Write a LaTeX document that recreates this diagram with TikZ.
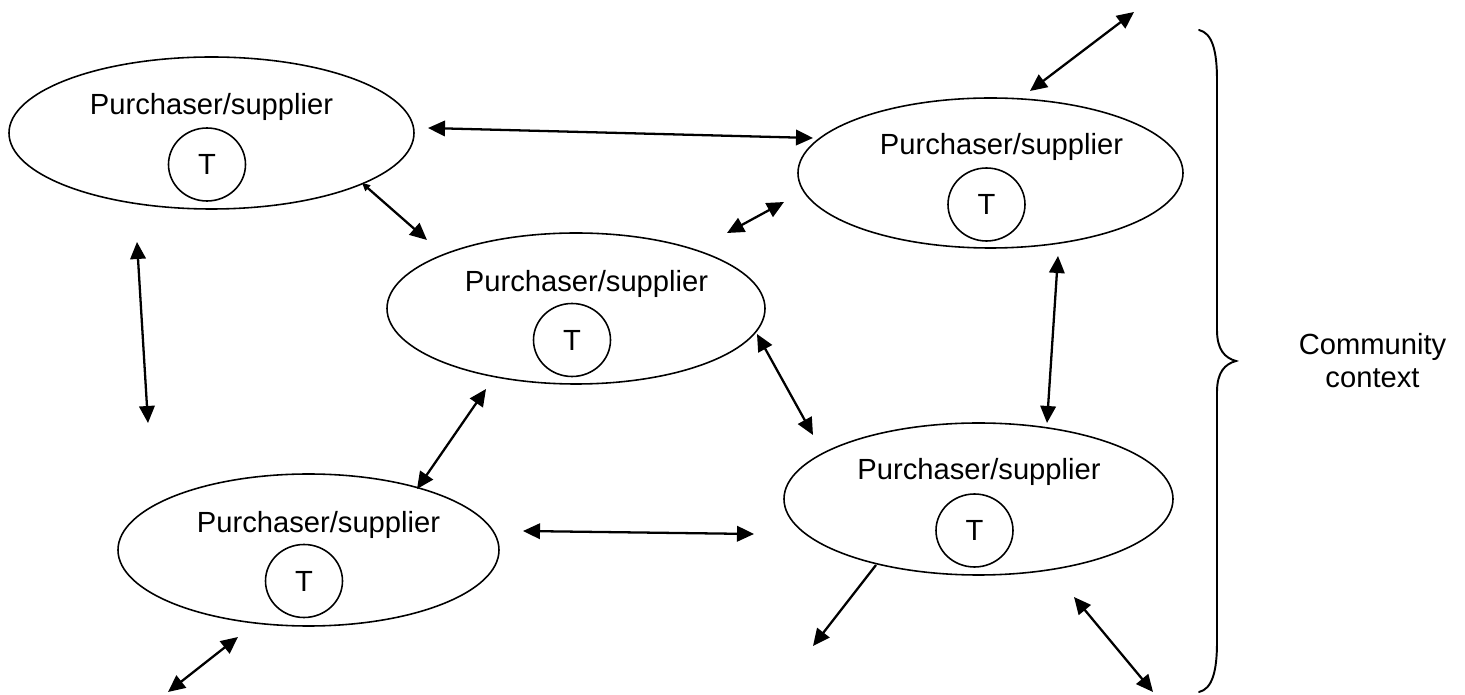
\documentclass[tikz,border=0pt]{standalone}
\usepackage{fontspec}
\setmainfont{Liberation Sans}
\usetikzlibrary{arrows.meta,shapes.geometric}
\begin{document}
\begin{tikzpicture}[x=0.02cm,y=-0.02cm,
  party/.style={draw,ellipse,line width=0.9pt,fill=white,inner sep=0pt,outer sep=0pt,
    minimum width={#1}},
  tcircle/.style={draw,ellipse,line width=0.9pt,inner sep=0pt,
    minimum width={77*0.02cm},minimum height={73*0.02cm},font=\fontsize{16.6}{19}\selectfont},
  label/.style={anchor=base,inner sep=0pt,font=\fontsize{16.6}{19}\selectfont},
  link/.style={line width=1.3pt,{Triangle[length=0.34cm,width=0.31cm]}-{Triangle[length=0.34cm,width=0.31cm]}},
  oneway/.style={line width=1.3pt,-{Triangle[length=0.34cm,width=0.31cm]}},
  brace/.style={line width=1.1pt,line cap=round}]
\useasboundingbox (0,0) rectangle (1465,695);

% arrow end points
\coordinate (a1s) at (428,128);  \coordinate (a1e) at (813,138);
\coordinate (a2s) at (362,183);  \coordinate (a2e) at (427,240);
\coordinate (a3s) at (137,242);  \coordinate (a3e) at (148,423);
\coordinate (a4s) at (727,233);  \coordinate (a4e) at (784,202);
\coordinate (a5s) at (1030,91);  \coordinate (a5e) at (1134,12);
\coordinate (a6s) at (1058,256); \coordinate (a6e) at (1047,423);
\coordinate (a7s) at (486,389);  \coordinate (a7e) at (417,489);
\coordinate (a8s) at (757,334);  \coordinate (a8e) at (813,435);
\coordinate (a9s) at (523,531);  \coordinate (a9e) at (754,534);
\coordinate (a10s) at (876,565); \coordinate (a10e) at (813,646);
\coordinate (a11s) at (238,637); \coordinate (a11e) at (168,692);
\coordinate (a12s) at (1074,597);\coordinate (a12e) at (1153,692);

% trading parties
\node[party={405*0.02cm},minimum height={152*0.02cm}] (e1) at (211.5,133) {};
\node[party={378*0.02cm},minimum height={151*0.02cm}] (e2) at (576,308.5) {};
\node[party={385*0.02cm},minimum height={150*0.02cm}] (e3) at (990.5,173) {};
\node[party={381*0.02cm},minimum height={152*0.02cm}] (e4) at (308.5,550) {};
\node[party={389*0.02cm},minimum height={152*0.02cm}] (e5) at (978.5,499) {};

\node[label] (l1) at (211.5,115) {Purchaser/supplier};
\node[label] (l2) at (586.5,292) {Purchaser/supplier};
\node[label] (l3) at (1001.5,155) {Purchaser/supplier};
\node[label] (l4) at (318.5,533) {Purchaser/supplier};
\node[label] (l5) at (979,480) {Purchaser/supplier};

\node[tcircle] (t1) at (207,164.5) {T};
\node[tcircle] (t2) at (572,340) {T};
\node[tcircle] (t3) at (986.5,204.5) {T};
\node[tcircle] (t4) at (304,581) {T};
\node[tcircle] (t5) at (974.5,530.5) {T};

% exchanges
\draw[link] (a1s) -- (a1e);
\draw[line width=1.3pt,{Triangle[length=0.16cm,width=0.15cm]}-{Triangle[length=0.34cm,width=0.31cm]}] (a2s) -- (a2e);
\draw[link] (a3s) -- (a3e);
\draw[link] (a4s) -- (a4e);
\draw[link] (a5s) -- (a5e);
\draw[link] (a6s) -- (a6e);
\draw[link] (a7s) -- (a7e);
\draw[link] (a8s) -- (a8e);
\draw[link] (a9s) -- (a9e);
\draw[oneway] (a10s) -- (a10e);
\draw[link] (a11s) -- (a11e);
\draw[link] (a12s) -- (a12e);

% community context brace
\coordinate (bt) at (1199,30);
\coordinate (bm) at (1236,361);
\coordinate (bb) at (1199,692);
\draw[brace] (bt) .. controls (1212,33) and (1217,50) .. (1217,80) -- (1217,330)
  .. controls (1217,350) and (1225,358) .. (bm)
  .. controls (1225,364) and (1217,372) .. (1217,392) -- (1217,642)
  .. controls (1217,672) and (1212,689) .. (bb);
\node[label] (c1) at (1372.5,355) {Community};
\node[label] (c2) at (1372.5,388) {context};
\end{tikzpicture}
\end{document}
